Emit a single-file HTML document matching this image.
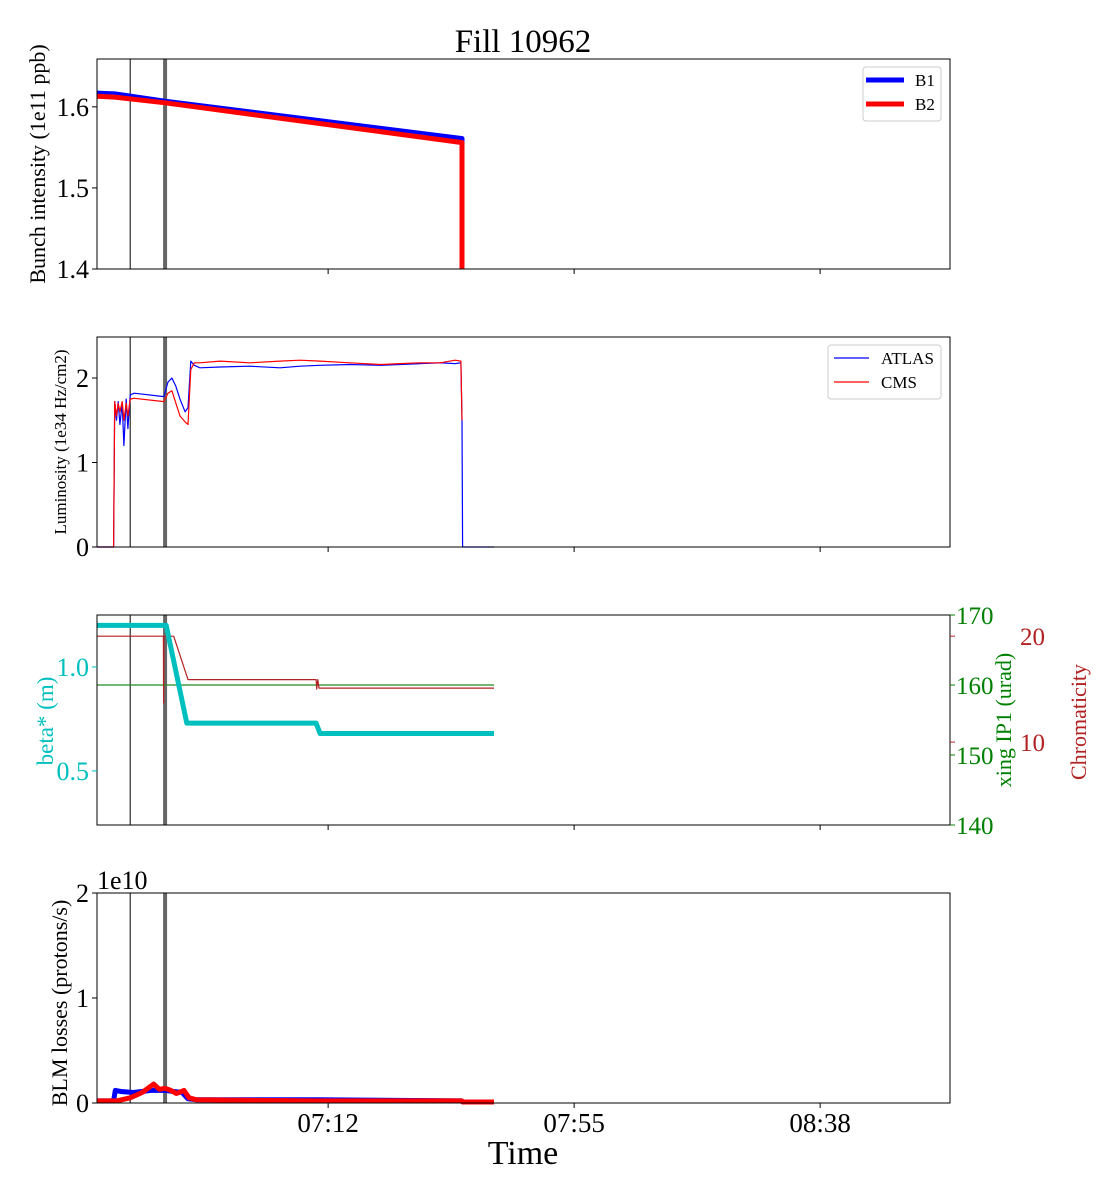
<!DOCTYPE html>
<html><head><meta charset="utf-8"><style>
body{margin:0;background:#fff}
svg{display:block;font-family:"Liberation Serif",serif}
</style></head><body>
<svg id="c" width="1120" height="1200" viewBox="0 0 1120 1200" xmlns="http://www.w3.org/2000/svg"></svg>
<script>
// ---- data (time in minutes since 06:00) ----
const timeDomain=[391.6,540.7];
const xTickTimes=[432,475,518];
const xTickLabels=["07:12","07:55","08:38"];
const markerBlack=397.4, markerGray=403.5;
// Panel 1 intensity (1e11 ppb)
const intT=[391.6,394.7,403.5,455.3,455.4,455.4];
const intB1=[1.617,1.616,1.607,1.561,1.561,1.40];
const intB2=[1.613,1.612,1.605,1.556,1.556,1.40];
// Panel 2 luminosity
const lumT=[391.6,394.5,394.7,395.0,395.3,395.6,396.0,396.3,396.7,397.0,397.4,398.1,403.3,404.0,404.7,405.4,406.1,407.0,407.5,408.0,408.6,409.6,413.1,418.3,423.6,427.1,430.6,435.8,441.1,444.6,448.1,451.6,454.2,455.2,455.4,455.5,461.0];
const lumAtlas=[0,0,1.72,1.5,1.72,1.45,1.7,1.2,1.75,1.4,1.80,1.82,1.78,1.95,2.0,1.9,1.75,1.6,1.65,2.2,2.15,2.12,2.13,2.14,2.12,2.14,2.15,2.16,2.15,2.16,2.17,2.18,2.17,2.18,1.5,0,0];
const lumCms=[0,0,1.72,1.55,1.7,1.6,1.72,1.5,1.7,1.55,1.75,1.76,1.72,1.82,1.85,1.7,1.55,1.48,1.45,2.1,2.18,2.18,2.20,2.18,2.20,2.21,2.20,2.18,2.16,2.17,2.18,2.18,2.21,2.20,1.5,null,null];
// Panel 3
const betaT=[391.6,403.7,407.3,429.9,430.6,461.0];
const betaV=[1.20,1.20,0.73,0.73,0.68,0.68];
const xingT=[391.6,461.0];
const xingV=[160,160];
const chromT=[391.6,403.2,403.25,403.3,405.0,407.5,429.9,430.0,430.2,430.4,461.0];
const chromV=[20,20,13.7,20,20,15.9,15.9,15.0,15.9,15.1,15.1];
// Panel 4 BLM (1e10 protons/s)
const blmT1=[391.6,394.5,394.8,395.8,398.0,401.0,403.5,405.0,406.5,407.5,409.0,430,455.4];
const blmB1=[0.02,0.02,0.12,0.11,0.10,0.12,0.12,0.11,0.10,0.04,0.03,0.03,0.02];
const blmT2=[391.6,395.0,397.4,399.5,400.5,401.5,402.5,403.5,404.5,405.5,406.8,407.7,409.0,430,455.4,455.5,461.0];
const blmB2=[0.02,0.02,0.05,0.10,0.14,0.18,0.13,0.14,0.12,0.09,0.12,0.05,0.03,0.02,0.02,0.01,0.01];

const NS="http://www.w3.org/2000/svg";
const svg=document.getElementById('c');
const L=97,R=950;
function X(t){return L+(t-timeDomain[0])/(timeDomain[1]-timeDomain[0])*(R-L);}
function mk(tag,at,parent){const e=document.createElementNS(NS,tag);for(const k in at)e.setAttribute(k,at[k]);(parent||svg).appendChild(e);return e;}
function txt(s,at){const e=mk('text',at);e.textContent=s;return e;}
function yScale(top,bot,d0,d1){return v=>bot-(v-d0)/(d1-d0)*(bot-top);}
function line(ts,vs,Y,color,w,name){let d='';let pen=false;
 for(let i=0;i<ts.length;i++){if(vs[i]==null){pen=false;continue;}d+=(pen?'L':'M')+X(ts[i]).toFixed(1)+','+Y(vs[i]).toFixed(1);pen=true;}
 const p=mk('path',{d:d,fill:'none',stroke:color,'stroke-width':w,'stroke-linejoin':'round'});
 
 return p;}
function frame(top,bot,name){
 const r=mk('rect',{x:L,y:top,width:R-L,height:bot-top,fill:'none',stroke:'#000','stroke-width':1});
 
 
 xTickTimes.forEach(t=>mk('line',{x1:X(t),x2:X(t),y1:bot,y2:bot+5,stroke:'#000'}));}
function markers(top,bot){
 mk('line',{x1:X(markerBlack),x2:X(markerBlack),y1:top,y2:bot,stroke:'#000','stroke-width':1});
 mk('line',{x1:X(markerGray),x2:X(markerGray),y1:top,y2:bot,stroke:'#666','stroke-width':4});}
function yticks(Y,vals,labels,color){vals.forEach((v,i)=>{const y=Y(v);
 mk('line',{x1:L-5,x2:L,y1:y,y2:y,stroke:'#000'});txt(labels[i],{x:L-8,y:y+9,'text-anchor':'end','font-size':26,fill:color});});}
function ylabel(s,x,cy,size,color,name){const e=txt(s,{x:x,y:cy,'font-size':size,'text-anchor':'middle',fill:color,transform:`rotate(-90 ${x} ${cy})`});
 
 }

const tt=txt('Fill 10962',{x:523,y:52,'text-anchor':'middle','font-size':33});



// Panel 1
let Y1=yScale(59,269,1.4,1.659);
markers(59,269);
line(intT,intB1,Y1,'#0000ff',5,'b1-intensity-line');
line(intT,intB2,Y1,'#ff0000',5,'b2-intensity-line');
frame(59,269,'intensity-axes');
yticks(Y1,[1.4,1.5,1.6],['1.4','1.5','1.6'],'#000');
ylabel('Bunch intensity (1e11 ppb)',45,164,22,'#000','intensity-y-title');
let lg=mk('g',{});
mk('rect',{x:863,y:67,width:78,height:54,rx:3,fill:'#fff',stroke:'#ccc'},lg);
mk('line',{x1:866,x2:904,y1:80,y2:80,stroke:'#0000ff','stroke-width':5},lg);
mk('line',{x1:866,x2:904,y1:104,y2:104,stroke:'#ff0000','stroke-width':5},lg);
txt('B1',{x:915,y:86,'font-size':17});txt('B2',{x:915,y:110,'font-size':17});

// Panel 2
let Y2=yScale(337,547,0,2.485);
markers(337,547);
line(lumT,lumAtlas,Y2,'#0000ff',1.2,'atlas-lumi-line');
line(lumT,lumCms,Y2,'#ff0000',1.2,'cms-lumi-line');
frame(337,547,'lumi-axes');
yticks(Y2,[0,1,2],['0','1','2'],'#000');
ylabel('Luminosity (1e34 Hz/cm2)',66,442,17,'#000','lumi-y-title');
lg=mk('g',{});
mk('rect',{x:828,y:345,width:113,height:54,rx:3,fill:'#fff',stroke:'#ccc'},lg);
mk('line',{x1:834,x2:869,y1:358,y2:358,stroke:'#0000ff','stroke-width':1.2},lg);
mk('line',{x1:834,x2:869,y1:382,y2:382,stroke:'#ff0000','stroke-width':1.2},lg);
txt('ATLAS',{x:881,y:364,'font-size':17});txt('CMS',{x:881,y:388,'font-size':17});

// Panel 3
let Y3=yScale(615,825,0.24,1.25);
let Yx=yScale(615,825,140,170);
let Yc=yScale(615,825,2.17,22.0);
markers(615,825);
line(xingT,xingV,Yx,'#228b22',1.2,'xing-line');
line(chromT,chromV,Yc,'#b22222',1.2,'chromaticity-line');
line(betaT,betaV,Y3,'#00bfbf',5,'beta-star-line');
frame(615,825,'optics-axes');
[0.5,1.0].forEach(v=>{const y=Y3(v);mk('line',{x1:L-5,x2:L,y1:y,y2:y,stroke:'#00bfbf'});txt(v.toFixed(1),{x:L-8,y:y+9,'text-anchor':'end','font-size':26,fill:'#00bfbf'});});
[140,150,160,170].forEach(v=>{const y=Yx(v);mk('line',{x1:R,x2:R+5,y1:y,y2:y,stroke:'#008000'});txt(String(v),{x:R+6,y:y+9,'font-size':25,fill:'#008000'});});
[10,20].forEach(v=>{const y=Yc(v);mk('line',{x1:R,x2:R+5,y1:y,y2:y,stroke:'#b22222'});txt(String(v),{x:1020,y:y+9,'font-size':25,fill:'#b22222'});});
ylabel('beta* (m)',53,721,23,'#00bfbf','beta-y-title');
ylabel('xing IP1 (urad)',1011,720,22,'#008000','xing-y-title');
ylabel('Chromaticity',1086,722,22,'#b22222','chroma-y-title');

// Panel 4
let Y4=yScale(893,1103,0,2);
markers(893,1103);
line(blmT1,blmB1,Y4,'#0000ff',5,'blm-b1-line');
line(blmT2,blmB2,Y4,'#ff0000',5,'blm-b2-line');
frame(893,1103,'blm-axes');
yticks(Y4,[0,1,2],['0','1','2'],'#000');
txt('1e10',{x:97,y:889,'font-size':26});
ylabel('BLM losses (protons/s)',67,1003,22,'#000','blm-y-title');
xTickTimes.forEach((t,i)=>{const e=txt(xTickLabels[i],{x:X(t),y:1132,'text-anchor':'middle','font-size':27});
 
 });
const xl=txt('Time',{x:523,y:1164,'text-anchor':'middle','font-size':34});


</script>
</body></html>
